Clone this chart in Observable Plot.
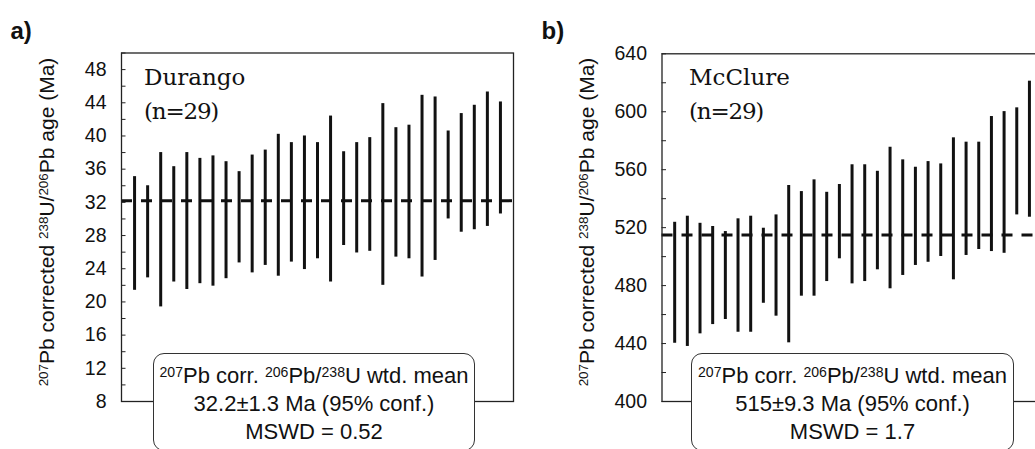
<!DOCTYPE html>
<html><head><meta charset="utf-8">
<script src="https://cdn.jsdelivr.net/npm/d3@7"></script>
<script src="https://cdn.jsdelivr.net/npm/@observablehq/plot@0.6"></script>
<style>
html,body{margin:0;padding:0;background:#fff;}
body{position:relative;width:1035px;height:449px;overflow:hidden;font-family:"Liberation Sans",Arial,sans-serif;color:#111;}
.panel{position:absolute;top:0;}
.panel svg{max-width:none !important;}
.plab{position:absolute;font-weight:bold;font-size:24px;line-height:24px;white-space:nowrap;}
.ylab{position:absolute;white-space:nowrap;font-size:21px;line-height:21px;transform:translate(-50%,-50%) rotate(-90deg);}
.name{position:absolute;font-family:"DejaVu Serif",serif;font-size:23px;line-height:33.5px;white-space:nowrap;}
.name span{letter-spacing:-1.2px;}
.box{position:absolute;border:1.3px solid #333;border-radius:11px;background:#fff;text-align:center;font-size:22px;line-height:28px;box-sizing:border-box;padding-top:8.6px;white-space:nowrap;}
sup{font-size:0.64em;vertical-align:0.4em;line-height:0;}
</style></head>
<body>
<script>
// ---- Data ----
const durangoHi = [35.1,34.0,38.0,36.3,38.0,37.3,37.6,36.9,35.7,37.7,38.3,40.2,39.2,40.0,39.2,42.4,38.1,39.2,39.8,43.9,41.0,41.3,44.9,44.7,40.6,42.7,43.7,45.3,44.1];
const durangoLo = [21.4,22.9,19.4,22.4,21.5,22.2,21.9,22.8,24.7,23.5,24.4,23.1,24.8,23.9,25.2,22.4,26.8,25.9,26.1,22.0,25.4,25.2,23.0,25.0,30.0,28.4,28.7,29.1,30.6];
const durangoMean = 32.2;
const durangoMajor = [8,12,16,20,24,28,32,36,40,44,48];
const durangoMinor = [10,14,18,22,26,30,34,38,42,46,50];

const mcclureHi = [523.7,527.9,523.0,520.8,517.3,526.1,527.9,519.6,528.8,549.1,544.9,553.0,544.4,549.8,563.4,563.4,558.9,575.5,566.8,561.7,565.6,564.0,582.0,579.0,579.0,596.7,600.1,602.7,621.1];
const mcclureLo = [440.2,438.0,446.7,453.1,456.6,447.8,447.8,467.8,458.9,440.5,472.7,472.7,482.8,498.5,481.2,482.8,490.9,477.8,487.0,493.9,496.1,500.1,484.0,500.8,504.9,503.5,502.3,528.8,527.2];
const mcclureMean = 515;
const mcclureMajor = [400,440,480,520,560,600,640];
const mcclureMinor = [420,460,500,540,580,620];

function panel(lo, hi, mean, yDomain, major, minor, dims) {
  const data = lo.map((l, i) => ({i: i + 1, lo: l, hi: hi[i]}));
  return Plot.plot({
    width: dims.width, height: 449,
    marginTop: dims.top, marginBottom: 48, marginLeft: dims.left, marginRight: dims.right,
    x: {domain: [0, 30], axis: null},
    y: {domain: yDomain},
    style: {fontFamily: "Liberation Sans, Arial, sans-serif", fontSize: "19px", color: "#111", background: "transparent", overflow: "visible", maxWidth: "none"},
    marks: [
      Plot.ruleY([mean], {stroke: "#111", strokeWidth: 3, strokeDasharray: "11,9"}),
      Plot.ruleX(data, {x: "i", y1: "lo", y2: "hi", stroke: "#111", strokeWidth: 3}),
      Plot.axisY(major.concat(minor), {anchor: "left", label: null, tickSize: -4.5, tickPadding: 19.5,
        tickFormat: d => major.includes(d) ? String(d) : "", stroke: "#222", fontSize: 19.5}),
      Plot.frame({stroke: "#222", strokeWidth: 1.3})
    ]
  });
}

function add(html, cls, style) {
  const d = document.createElement("div");
  d.className = cls; d.innerHTML = html; Object.assign(d.style, style);
  document.body.appendChild(d); return d;
}

const pa = add("", "panel", {left: "0px", width: "517px"});
pa.appendChild(panel(durangoLo, durangoHi, durangoMean, [8, 50], durangoMajor, durangoMinor, {width: 517, top: 52.5, left: 121, right: 4}));
const pb = add("", "panel", {left: "517px", width: "530px"});
pb.appendChild(panel(mcclureLo, mcclureHi, mcclureMean, [400, 640], mcclureMajor, mcclureMinor, {width: 530, top: 53.3, left: 144.5, right: 5.4}));

const ylabel = "<sup>207</sup>Pb corrected <sup>238</sup>U/<sup>206</sup>Pb age (Ma)";
add(ylabel, "ylab", {left: "46px", top: "221.5px"});
add(ylabel, "ylab", {left: "586px", top: "221.5px"});

add("a)", "plab", {left: "10.5px", top: "19px"});
add("b)", "plab", {left: "541.5px", top: "19px"});

add("Durango<br><span>(n=29)</span>", "name", {left: "144px", top: "61px"});
add("McClure<br><span>(n=29)</span>", "name", {left: "689px", top: "61px"});

const boxLine1 = "<sup>207</sup>Pb corr. <sup>206</sup>Pb/<sup>238</sup>U wtd. mean";
add(boxLine1 + "<br>32.2±1.3 Ma (95% conf.)<br>MSWD = 0.52", "box", {left: "153px", top: "352.5px", width: "322px", height: "98px"});
add(boxLine1 + "<br>515±9.3 Ma (95% conf.)<br>MSWD = 1.7", "box", {left: "691px", top: "352.5px", width: "323px", height: "98px"});
</script>
</body></html>
